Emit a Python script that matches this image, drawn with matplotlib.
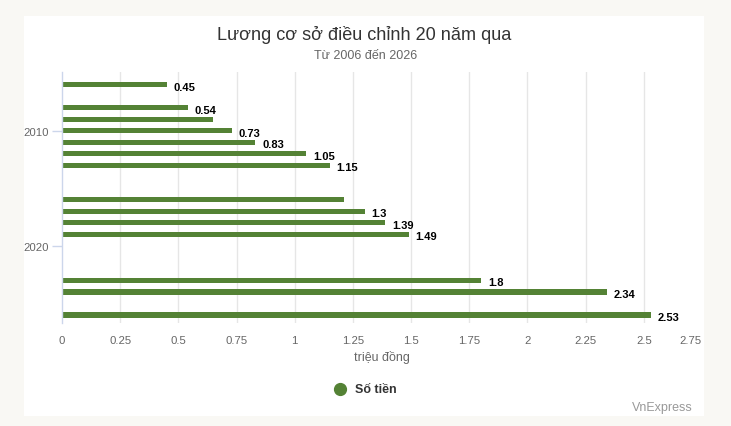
import matplotlib
matplotlib.use("Agg")
import matplotlib.pyplot as plt
from matplotlib.patches import Rectangle

years = [2006, 2008, 2009, 2010, 2011, 2012, 2013, 2016, 2017, 2018, 2019, 2023, 2024, 2026]
values = [0.45, 0.54, 0.65, 0.73, 0.83, 1.05, 1.15, 1.21, 1.3, 1.39, 1.49, 1.8, 2.34, 2.53]
labels = ["0.45", "0.54", "", "0.73", "0.83", "1.05", "1.15", "", "1.3", "1.39", "1.49", "1.8", "2.34", "2.53"]
x_ticks = [0, 0.25, 0.5, 0.75, 1, 1.25, 1.5, 1.75, 2, 2.25, 2.5, 2.75]
x_tick_labels = ["0", "0.25", "0.5", "0.75", "1", "1.25", "1.5", "1.75", "2", "2.25", "2.5", "2.75"]
y_ticks = [2010, 2020]

plt.rcParams['font.family'] = ['Liberation Sans', 'DejaVu Sans']

W, H = 731, 427
fig = plt.figure(figsize=(W / 100, H / 100), dpi=100)
fig.patch.set_facecolor('#f9f8f4')
fig.add_artist(Rectangle((24 / W, 1 - 417 / H), (704 - 24) / W, (417 - 17) / H,
                         transform=fig.transFigure, facecolor='white', edgecolor='none', zorder=-10))

L, R, T, B = 62, 702, 73, 324
ax = fig.add_axes([L / W, 1 - B / H, (R - L) / W, (B - T) / H])
ax.set_zorder(1)
ax.set_facecolor('none')

green = '#548235'
ax.barh(years, values, height=0.45, color=green, zorder=3)
for y, v, lab in zip(years, values, labels):
    if lab:
        ax.annotate(lab, (v, y), xytext=(5, -1.5), textcoords='offset points',
                    ha='left', va='center', fontsize=8, fontweight='bold', color='#000000', zorder=4)

ax.set_xlim(0, 2.75)
ax.set_ylim(2026.7, 2004.9)
ax.set_xticks(x_ticks)
ax.set_xticklabels(x_tick_labels)
for i, t in enumerate(ax.get_xticklabels()):
    if i == len(x_ticks) - 1:
        t.set_ha('right')
ax.set_yticks(y_ticks)
ax.set_yticklabels([str(y) for y in y_ticks])

ax.tick_params(axis='x', length=0, pad=9, labelsize=8.2, labelcolor='#666666')
ax.tick_params(axis='y', length=7, width=1, color='#ccd6eb', pad=2.5, labelsize=8.2, labelcolor='#666666')

for x in x_ticks[1:-1]:
    ax.axvline(x, color='#e6e6e6', linewidth=1, zorder=1)
for s in ['top', 'right', 'bottom']:
    ax.spines[s].set_visible(False)
ax.spines['left'].set_color('#ccd6eb')
ax.spines['left'].set_linewidth(1)
ax.spines['left'].set_zorder(5)

ax.set_xlabel('triệu đồng', fontsize=9, color='#666666', labelpad=3.5)

fig.text(364 / W, 1 - 35 / H, 'Lương cơ sở điều chỉnh 20 năm qua', ha='center', va='center',
         fontsize=13.1, color='#333333')
fig.text(366 / W, 1 - 56 / H, 'Từ 2006 đến 2026', ha='center', va='center',
         fontsize=9, color='#666666')

fig.add_artist(plt.Line2D([340 / W], [1 - 390 / H], marker='o', markersize=8.5, color=green,
                          linestyle='none', transform=fig.transFigure))
fig.text(355 / W, 1 - 390 / H, 'Số tiền', ha='left', va='center', fontsize=9,
         fontweight='bold', color='#333333')
fig.text(693 / W, 1 - 408 / H, 'VnExpress', ha='right', va='center', fontsize=9, color='#999999')

fig.savefig('out.png', dpi=100, facecolor=fig.get_facecolor())
